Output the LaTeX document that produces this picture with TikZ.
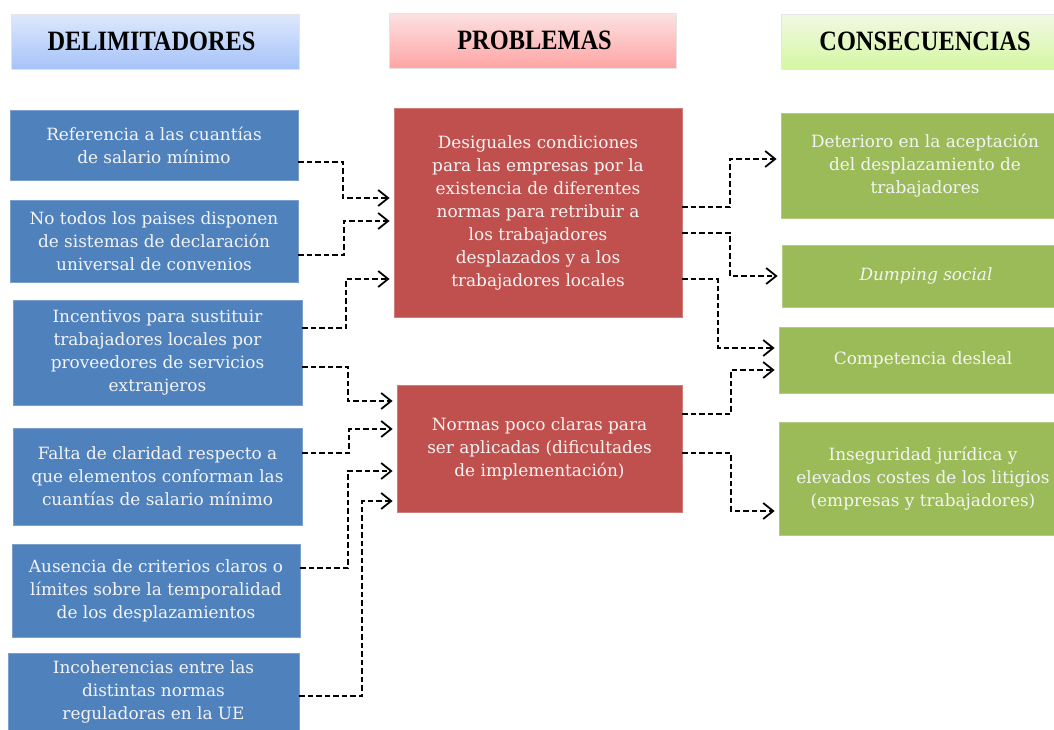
\documentclass[tikz,border=0pt]{standalone}
\usepackage{fontspec}
\setmainfont{DejaVu Serif}
\newfontfamily\hdrfont[FakeStretch=0.87]{Liberation Serif}
\usetikzlibrary{arrows.meta}
\definecolor{cblue}{HTML}{4F81BD}
\definecolor{cred}{HTML}{C0504D}
\definecolor{cgreen}{HTML}{9BBB59}
\definecolor{hbluetop}{HTML}{DEE8FC}
\definecolor{hbluebot}{HTML}{A6C3F8}
\definecolor{hredtop}{HTML}{FCE2E2}
\definecolor{hredbot}{HTML}{FEA4A4}
\definecolor{hgreentop}{HTML}{F1F9E5}
\definecolor{hgreenbot}{HTML}{D5F7A2}
\definecolor{ctext}{HTML}{F4F4F4}
\tikzset{
  box/.style={inner sep=0pt, align=center, text=ctext,
    font=\fontsize{16.9}{23}\selectfont},
  bluebox/.style={box, fill=cblue, draw=cblue!75!white, line width=0.8pt},
  redbox/.style={box, fill=cred, draw=cred!75!white, line width=0.8pt},
  greenbox/.style={box, fill=cgreen, draw=cgreen!75!white, line width=0.8pt},
  hdr/.style={inner sep=0pt, draw=white!90!black, line width=0.6pt,
    font=\hdrfont\bfseries\fontsize{28}{30}\selectfont, text=black},
  conn/.style={draw=black, line width=1.8pt, dash pattern=on 5.5pt off 3pt,
    -{Straight Barb[length=10pt,width=16pt,line width=1.8pt]}, shorten >=4pt}
}
\begin{document}
\begin{tikzpicture}[x=1pt,y=-1pt]
\useasboundingbox (0,0) rectangle (1054,729);
\clip (0,0) rectangle (1054,729);
\fill[white] (0,0) rectangle (1054,729);

% headers
\node[hdr, minimum width=288pt, minimum height=55pt, top color=hbluetop, bottom color=hbluebot] (h1) at (155,41.5) {\hspace*{-7pt}DELIMITADORES};
\node[hdr, minimum width=287pt, minimum height=55pt, top color=hredtop, bottom color=hredbot] (h2) at (532.5,40.5) {\hspace*{4pt}PROBLEMAS};
\node[hdr, minimum width=288pt, minimum height=55pt, top color=hgreentop, bottom color=hgreenbot] (h3) at (925,41.5) {CONSECUENCIAS};

% left boxes
\node[bluebox, minimum width=288pt, minimum height=70pt] (l1) at (154,145) {Referencia a las cuantías\\de salario mínimo};
\node[bluebox, minimum width=288pt, minimum height=82pt] (l2) at (154,241) {No todos los paises disponen\\de sistemas de declaración\\universal de convenios};
\node[bluebox, minimum width=289pt, minimum height=105pt] (l3) at (157.5,352.5) {Incentivos para sustituir\\trabajadores locales por\\proveedores de servicios\\extranjeros};
\node[bluebox, minimum width=289pt, minimum height=97pt] (l4) at (157.5,476.5) {Falta de claridad respecto a\\que elementos conforman las\\cuantías de salario mínimo};
\node[bluebox, minimum width=288pt, minimum height=93pt] (l5) at (156,590.5) {Ausencia de criterios claros o\\límites sobre la temporalidad\\de los desplazamientos};
\node[bluebox, minimum width=291pt, minimum height=78pt] (l6) at (153.5,692) {Incoherencias entre las\\distintas normas\\reguladoras en la UE};

% middle boxes
\node[redbox, minimum width=288pt, minimum height=209pt] (pA) at (538,212.5) {Desiguales condiciones\\para las empresas por la\\existencia de diferentes\\normas para retribuir a\\los trabajadores\\desplazados y a los\\trabajadores locales};
\node[redbox, minimum width=285pt, minimum height=127pt] (pB) at (539.5,448.5) {Normas poco claras para\\ser aplicadas (dificultades\\de implementación)};

% right boxes
\node[greenbox, minimum width=288pt, minimum height=105pt] (c1) at (925,165.5) {Deterioro en la aceptación\\del desplazamiento de\\trabajadores};
\node[greenbox, minimum width=288pt, minimum height=62pt] (c2) at (926,276) {\itshape Dumping social};
\node[greenbox, minimum width=288pt, minimum height=66pt] (c3) at (923,360) {Competencia desleal};
\node[greenbox, minimum width=288pt, minimum height=113pt] (c4) at (923,478.5) {Inseguridad jurídica y\\elevados costes de los litigios\\(empresas y trabajadores)};

% connectors left -> middle
\draw[conn] (l1.east |- 0,162) -| (343,198) -- (pA.west |- 0,198);
\draw[conn] (l2.east |- 0,255) -| (344,221) -- (pA.west |- 0,221);
\draw[conn] (l3.east |- 0,328) -| (346,279) -- (pA.west |- 0,279);
\draw[conn] (l3.east |- 0,367) -| (348,401) -- (pB.west |- 0,401);
\draw[conn] (l4.east |- 0,453) -| (349,429) -- (pB.west |- 0,429);
\draw[conn] (l5.east |- 0,568) -| (348,471) -- (pB.west |- 0,471);
\draw[conn] (l6.east |- 0,696) -| (362,501) -- (pB.west |- 0,501);

% connectors middle -> right
\draw[conn] (pA.east |- 0,207) -| (730,159) -- (c1.west |- 0,159);
\draw[conn] (pA.east |- 0,233) -| (730,276) -- (c2.west |- 0,276);
\draw[conn] (pA.east |- 0,279) -| (718,348) -- (c3.west |- 0,348);
\draw[conn] (pB.east |- 0,414) -| (731,370) -- (c3.west |- 0,370);
\draw[conn] (pB.east |- 0,453) -| (731,511) -- (c4.west |- 0,511);
\end{tikzpicture}
\end{document}
